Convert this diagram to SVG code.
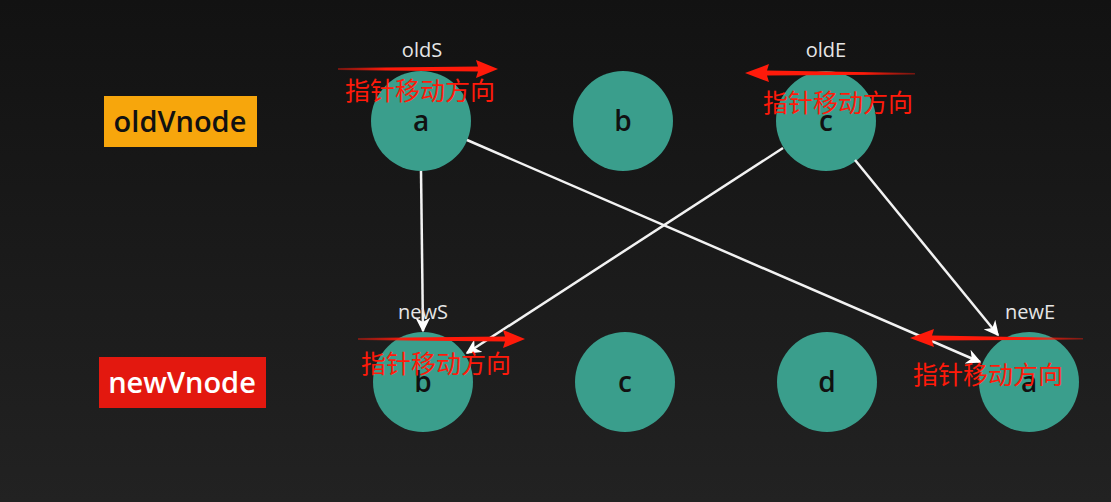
<svg xmlns="http://www.w3.org/2000/svg" width="1111" height="502" viewBox="0 0 1111 502">
<defs>
<linearGradient id="bg" x1="0" y1="0" x2="0" y2="1">
<stop offset="0" stop-color="#121212"/>
<stop offset="1" stop-color="#222222"/>
</linearGradient>
<marker id="wh" viewBox="0 0 10 10" refX="9" refY="5" markerWidth="6" markerHeight="6" orient="auto" markerUnits="strokeWidth">
<path d="M0,0 L10,5 L0,10 L3,5 Z" fill="#ffffff"/>
</marker>
<linearGradient id="rr" x1="0" y1="0" x2="1" y2="0">
<stop offset="0" stop-color="#ff1a0a" stop-opacity="0.4"/>
<stop offset="0.3" stop-color="#ff1a0a"/>
</linearGradient>
<linearGradient id="rl" x1="1" y1="0" x2="0" y2="0">
<stop offset="0" stop-color="#ff1a0a" stop-opacity="0.4"/>
<stop offset="0.3" stop-color="#ff1a0a"/>
</linearGradient>
</defs>
<style>
.node{fill:#3a9e8c}
.nt{font-family:"Open Sans","DejaVu Sans",sans-serif;font-size:28px;font-weight:600;fill:#111;text-anchor:middle}
.lab{font-family:"Open Sans","DejaVu Sans",sans-serif;font-size:20px;fill:#e6e6e6;text-anchor:middle}
.cn{font-family:"Noto Sans CJK SC",sans-serif;font-size:25px;fill:#ff1a0a}
.edge{stroke:#f2f2f2;stroke-width:2.5;fill:none;marker-end:url(#wh)}
</style>
<rect width="1111" height="502" fill="url(#bg)"/>

<g id="oldVnode">
<rect x="104" y="96" width="153" height="51" fill="#f7a60c"/>
<text x="180" y="132" class="nt" style="font-size:29px">oldVnode</text>
</g>
<g id="newVnode">
<rect x="99" y="357" width="167" height="51" fill="#e3180f"/>
<text x="182" y="393" class="nt" style="font-size:29px;fill:#fff">newVnode</text>
</g>

<g id="old-a"><circle cx="421" cy="121" r="50" class="node"/><text x="421" y="131" class="nt">a</text></g>
<g id="old-b"><circle cx="623" cy="121" r="50" class="node"/><text x="623" y="131" class="nt">b</text></g>
<g id="old-c"><circle cx="826" cy="121" r="50" class="node"/><text x="826" y="131" class="nt">c</text></g>
<g id="new-b"><circle cx="423" cy="382" r="50" class="node"/><text x="423" y="392" class="nt">b</text></g>
<g id="new-c"><circle cx="625" cy="382" r="50" class="node"/><text x="625" y="392" class="nt">c</text></g>
<g id="new-d"><circle cx="827" cy="382" r="50" class="node"/><text x="827" y="392" class="nt">d</text></g>
<g id="new-a"><circle cx="1029" cy="382" r="50" class="node"/><text x="1029" y="392" class="nt">a</text></g>

<g id="connectors">
<line x1="421" y1="171" x2="423" y2="331" class="edge"/>
<line x1="467" y1="140" x2="980" y2="362" class="edge"/>
<line x1="783" y1="148" x2="467" y2="353" class="edge"/>
<line x1="855" y1="160" x2="998" y2="335" class="edge"/>
</g>

<g id="labels">
<text x="422" y="57" class="lab">oldS</text>
<text x="826" y="57" class="lab">oldE</text>
<text x="423" y="319" class="lab">newS</text>
<text x="1030" y="319" class="lab">newE</text>
</g>

<g id="pointer-oldS">
<path d="M338,68 L478,66.5 L476,60 L498,69 L476,78 L478,71.5 L338,70 Z" fill="url(#rr)"/>
<text x="345" y="100" class="cn">指针移动方向</text>
</g>
<g id="pointer-oldE">
<path d="M915,73 L767,70.5 L769,64 L745,73 L769,82 L767,75.5 L915,74.5 Z" fill="url(#rl)"/>
<text x="763" y="112" class="cn">指针移动方向</text>
</g>
<g id="pointer-newS">
<path d="M358,338 L505,336.5 L503,330 L525,339 L503,348 L505,341.5 L358,340 Z" fill="url(#rr)"/>
<text x="361" y="373" class="cn">指针移动方向</text>
</g>
<g id="pointer-newE">
<path d="M1083,338 L932,335.5 L934,329 L910,338 L934,347 L932,340.5 L1083,339.5 Z" fill="url(#rl)"/>
<text x="913" y="384" class="cn">指针移动方向</text>
</g>
</svg>
